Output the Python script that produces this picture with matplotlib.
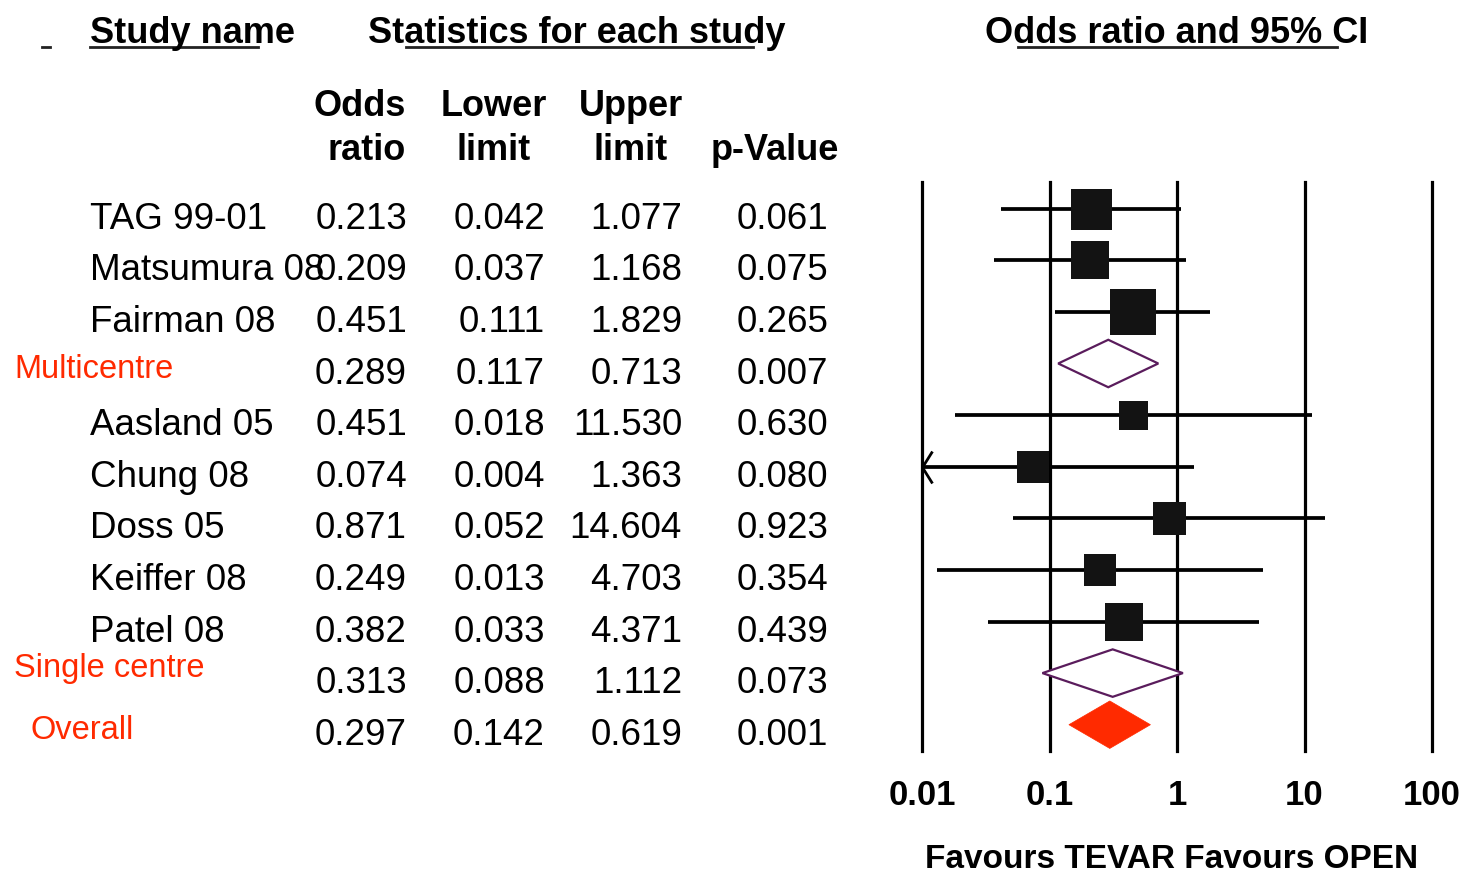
import matplotlib
matplotlib.use("Agg")
import matplotlib.pyplot as plt
from matplotlib import transforms
from matplotlib.patches import Polygon
from matplotlib.lines import Line2D

# ---------------- data ----------------
row_labels = ["TAG 99-01", "Matsumura 08", "Fairman 08", "Multicentre",
              "Aasland 05", "Chung 08", "Doss 05", "Keiffer 08", "Patel 08",
              "Single centre", "Overall"]
row_kind = ["study", "study", "study", "subtotal",
            "study", "study", "study", "study", "study",
            "subtotal", "overall"]
odds_ratio = [0.213, 0.209, 0.451, 0.289, 0.451, 0.074, 0.871, 0.249, 0.382, 0.313, 0.297]
lower_limit = [0.042, 0.037, 0.111, 0.117, 0.018, 0.004, 0.052, 0.013, 0.033, 0.088, 0.142]
upper_limit = [1.077, 1.168, 1.829, 0.713, 11.530, 1.363, 14.604, 4.703, 4.371, 1.112, 0.619]
p_value = [0.061, 0.075, 0.265, 0.007, 0.630, 0.080, 0.923, 0.354, 0.439, 0.073, 0.001]
# relative study weight (drives box size)
study_weight = [41, 38, 47, None, 29, 32, 33, 32, 38, None, None]

axis_ticks = [0.01, 0.1, 1, 10, 100]
axis_tick_labels = ["0.01", "0.1", "1", "10", "100"]

title_study = "Study name"
title_stats = "Statistics for each study"
title_plot = "Odds ratio and 95% CI"
col_headers = [("Odds", "ratio"), ("Lower", "limit"), ("Upper", "limit"), ("", "p-Value")]
footer = "Favours TEVAR Favours OPEN"

# ---------------- style ----------------
FONT = "Liberation Sans"
RED = "#FF2A00"
PURPLE = "#5A1C5C"
BOX = "#131313"

W, H = 1467, 873
fig = plt.figure(figsize=(W / 100, H / 100), dpi=100)
fig.patch.set_facecolor("white")

# background axes in pixel coordinates (for table text)
tax = fig.add_axes([0, 0, 1, 1])
tax.set_xlim(0, W)
tax.set_ylim(H, 0)
tax.axis("off")

# forest plot axes
px_left, px_right, px_top, px_bottom = 922, 1432, 182, 751
ax = fig.add_axes([px_left / W, (H - px_bottom) / H,
                   (px_right - px_left) / W, (px_bottom - px_top) / H])
ax.patch.set_alpha(0)
ax.set_xscale("log")
ax.set_xlim(axis_ticks[0], axis_ticks[-1])
row_px0, row_step = 208.7, 51.6
ax.set_ylim((px_bottom - row_px0) / row_step, (px_top - row_px0) / row_step)
for s in ax.spines.values():
    s.set_visible(False)
ax.set_yticks([])
ax.minorticks_off()
ax.set_xticks(axis_ticks)
ax.set_xticklabels(axis_tick_labels, family=FONT, fontweight="bold", fontsize=25)
ax.tick_params(axis="x", length=0, pad=20.5)

for t in axis_ticks:
    ax.axvline(t, color="black", lw=2.3, clip_on=False, zorder=1)

xmin = axis_ticks[0]
for i, kind in enumerate(row_kind):
    o, lo, up = odds_ratio[i], lower_limit[i], upper_limit[i]
    if kind == "study":
        ax.plot([max(lo, xmin), up], [i, i], color="black", lw=2.7,
                solid_capstyle="butt", zorder=2, clip_on=False)
        if lo < xmin:
            ax.plot([xmin], [i], marker=[(10, 16), (0, 0), (10, -16)],
                    markersize=23, markerfacecolor="none",
                    markeredgecolor="black", markeredgewidth=2.0,
                    zorder=3, clip_on=False)
        ax.plot([o], [i], marker="s", markersize=study_weight[i] * 0.72,
                color=BOX, markeredgewidth=0, zorder=4, clip_on=False)
    else:
        h = 0.46
        verts = [(lo, i), (o, i - h), (up, i), (o, i + h)]
        if kind == "subtotal":
            poly = Polygon(verts, closed=True, facecolor="white",
                           edgecolor=PURPLE, lw=1.6, zorder=4)
        else:
            poly = Polygon(verts, closed=True, facecolor=RED,
                           edgecolor=RED, lw=0.5, zorder=4)
        ax.add_patch(poly)

# ---------------- table text ----------------
tr = transforms.blended_transform_factory(tax.transData, ax.transData)
num_kw = dict(family=FONT, fontsize=26.5, color="black", va="baseline", ha="right")
col_right = [407, 545, 682, 828]
base_off = 0.39
label_off = {"Multicentre": 0.28, "Single centre": 0.08, "Overall": 0.28}
for i, kind in enumerate(row_kind):
    y = i + base_off
    if kind == "study":
        tax.text(90, y, row_labels[i], transform=tr, family=FONT, fontsize=26.5,
                 color="black", va="baseline", ha="left")
    else:
        lab_x = 30 if kind == "overall" else 14
        tax.text(lab_x, i + label_off.get(row_labels[i], 0.28), row_labels[i],
                 transform=tr, family=FONT, fontsize=23.5, color=RED,
                 va="baseline", ha="left")
    vals = [odds_ratio[i], lower_limit[i], upper_limit[i], p_value[i]]
    for x, v in zip(col_right, vals):
        tax.text(x, y, f"{v:.3f}", transform=tr, **num_kw)

# ---------------- headers ----------------
hdr_kw = dict(family=FONT, fontsize=26, fontweight="bold", color="black", va="baseline")
tax.text(90, 43, title_study, ha="left", **hdr_kw)
tax.text(577, 43, title_stats, ha="center", **hdr_kw)
tax.text(1177, 43, title_plot, ha="center", **hdr_kw)
for x0, x1 in [(90, 258), (406, 753), (1018, 1337), (42, 50)]:
    tax.add_line(Line2D([x0, x1], [46.5, 46.5], color="#222222", lw=2.0))

col_hdr_kw = dict(family=FONT, fontsize=26, fontweight="bold", color="black", va="baseline")
hdr_pos = [(406, "right"), (494, "center"), (631, "center"), (711, "left")]
for (top, bot), (x, ha) in zip(col_headers, hdr_pos):
    if top:
        tax.text(x, 116, top, ha=ha, **col_hdr_kw)
    tax.text(x, 160, bot, ha=ha, **col_hdr_kw)

tax.text(1172, 868, footer, ha="center", family=FONT, fontsize=24,
         fontweight="bold", color="black", va="baseline")

fig.savefig("out.png", dpi=100, facecolor="white")
